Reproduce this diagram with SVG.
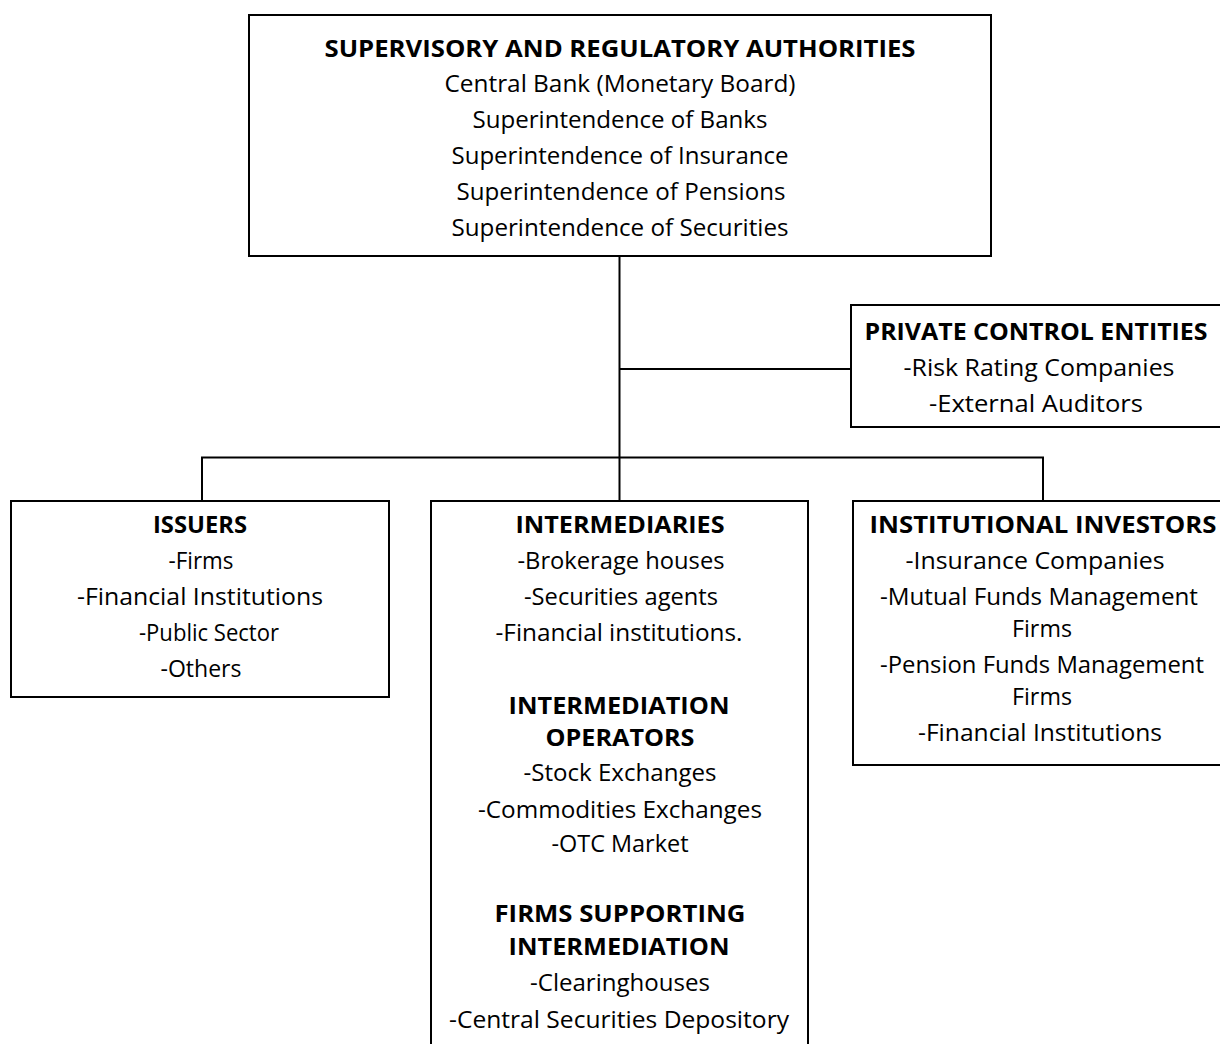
<svg xmlns="http://www.w3.org/2000/svg" width="1220" height="1044" viewBox="0 0 1220 1044">
<style>
.box{fill:#fff;stroke:#000;stroke-width:2}
.ln{fill:none;stroke:#000;stroke-width:2}
text{font-family:"Open Sans","DejaVu Sans",sans-serif;font-size:23px;text-anchor:middle;fill:#000}
.h{font-weight:bold}
</style>
<rect width="1220" height="1044" fill="#fff"/>
<g id="connectors">
<line class="ln" x1="619.5" y1="257" x2="619.5" y2="501"/>
<line class="ln" x1="619.5" y1="369" x2="851" y2="369"/>
<polyline class="ln" points="202,501 202,457.5 1043,457.5 1043,501"/>
</g>
<g id="authorities">
<rect class="box" x="249" y="15" width="742" height="241"/>
<text class="h" x="620" y="57" textLength="591" lengthAdjust="spacingAndGlyphs">SUPERVISORY AND REGULATORY AUTHORITIES</text>
<text x="620" y="92" textLength="351" lengthAdjust="spacingAndGlyphs">Central Bank (Monetary Board)</text>
<text x="620" y="128" textLength="295" lengthAdjust="spacingAndGlyphs">Superintendence of Banks</text>
<text x="620" y="164" textLength="337" lengthAdjust="spacingAndGlyphs">Superintendence of Insurance</text>
<text x="621" y="200" textLength="329" lengthAdjust="spacingAndGlyphs">Superintendence of Pensions</text>
<text x="620" y="236" textLength="337" lengthAdjust="spacingAndGlyphs">Superintendence of Securities</text>
</g>
<g id="private">
<rect class="box" x="851" y="305" width="380" height="122"/>
<text class="h" x="1036" y="340" textLength="343" lengthAdjust="spacingAndGlyphs">PRIVATE CONTROL ENTITIES</text>
<text x="1039" y="376" textLength="271" lengthAdjust="spacingAndGlyphs">-Risk Rating Companies</text>
<text x="1036" y="412" textLength="214" lengthAdjust="spacingAndGlyphs">-External Auditors</text>
</g>
<g id="issuers">
<rect class="box" x="11" y="501" width="378" height="196"/>
<text class="h" x="200" y="533" textLength="94" lengthAdjust="spacingAndGlyphs">ISSUERS</text>
<text x="201" y="569" textLength="65" lengthAdjust="spacingAndGlyphs">-Firms</text>
<text x="200" y="605" textLength="246" lengthAdjust="spacingAndGlyphs">-Financial Institutions</text>
<text x="209" y="641" textLength="140" lengthAdjust="spacingAndGlyphs">-Public Sector</text>
<text x="201" y="677" textLength="81" lengthAdjust="spacingAndGlyphs">-Others</text>
</g>
<g id="intermediaries">
<rect class="box" x="431" y="501" width="377" height="560"/>
<text class="h" x="620" y="533" textLength="209" lengthAdjust="spacingAndGlyphs">INTERMEDIARIES</text>
<text x="621" y="569" textLength="207" lengthAdjust="spacingAndGlyphs">-Brokerage houses</text>
<text x="621" y="605" textLength="194" lengthAdjust="spacingAndGlyphs">-Securities agents</text>
<text x="619" y="641" textLength="247" lengthAdjust="spacingAndGlyphs">-Financial institutions.</text>
<text class="h" x="619" y="714" textLength="221" lengthAdjust="spacingAndGlyphs">INTERMEDIATION</text>
<text class="h" x="620" y="746" textLength="149" lengthAdjust="spacingAndGlyphs">OPERATORS</text>
<text x="620" y="781" textLength="193" lengthAdjust="spacingAndGlyphs">-Stock Exchanges</text>
<text x="620" y="818" textLength="284" lengthAdjust="spacingAndGlyphs">-Commodities Exchanges</text>
<text x="620" y="852" textLength="137" lengthAdjust="spacingAndGlyphs">-OTC Market</text>
<text class="h" x="620" y="922" textLength="251" lengthAdjust="spacingAndGlyphs">FIRMS SUPPORTING</text>
<text class="h" x="619" y="955" textLength="221" lengthAdjust="spacingAndGlyphs">INTERMEDIATION</text>
<text x="620" y="991" textLength="180" lengthAdjust="spacingAndGlyphs">-Clearinghouses</text>
<text x="619" y="1028" textLength="340" lengthAdjust="spacingAndGlyphs">-Central Securities Depository</text>
</g>
<g id="investors">
<rect class="box" x="853" y="501" width="380" height="264"/>
<text class="h" x="1043" y="533" textLength="347" lengthAdjust="spacingAndGlyphs">INSTITUTIONAL INVESTORS</text>
<text x="1035" y="569" textLength="259" lengthAdjust="spacingAndGlyphs">-Insurance Companies</text>
<text x="1039" y="605" textLength="318" lengthAdjust="spacingAndGlyphs">-Mutual Funds Management</text>
<text x="1042" y="637" textLength="60" lengthAdjust="spacingAndGlyphs">Firms</text>
<text x="1042" y="673" textLength="324" lengthAdjust="spacingAndGlyphs">-Pension Funds Management</text>
<text x="1042" y="705" textLength="60" lengthAdjust="spacingAndGlyphs">Firms</text>
<text x="1040" y="741" textLength="244" lengthAdjust="spacingAndGlyphs">-Financial Institutions</text>
</g>
</svg>
